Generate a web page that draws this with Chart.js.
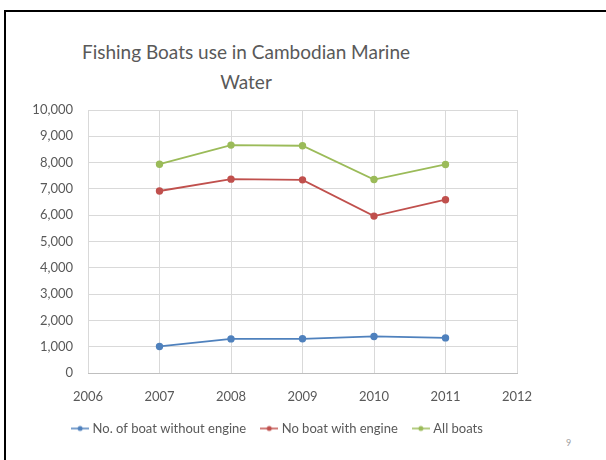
<!DOCTYPE html>
<html lang="en">
<head>
    <meta charset="UTF-8">
    <title>Fishing Boats use in Cambodian Marine Water</title>
    <script src="https://cdn.jsdelivr.net/npm/chart.js"></script>
    <style>
        body {
            margin: 0;
            width: 606px;
            height: 460px;
            overflow: hidden;
            background: #ffffff;
            font-family: Lato, sans-serif;
            position: relative;
        }
        .frame {
            position: absolute;
            left: 4px;
            top: 10px;
            width: 700px;
            height: 600px;
            border-left: 2px solid #000;
            border-top: 2px solid #000;
        }
        .title {
            position: absolute;
            left: 46px;
            width: 400px;
            top: 37px;
            text-align: center;
            font-size: 19px;
            line-height: 30px;
            color: #595959;
        }
        .page {
            position: absolute;
            left: 566px;
            top: 437px;
            font-size: 9px;
            color: #a0a0a0;
        }
        .wrap {
            position: absolute;
            left: 0;
            top: 0;
            width: 554px;
            height: 460px;
        }
    </style>
</head>
<body>
    <div class="frame"></div>
    <div class="title">Fishing Boats use in Cambodian Marine<br>Water</div>
    <div class="page">9</div>
    <div class="wrap"><canvas id="boats"></canvas></div>
    <script>
        // years on the x axis
        const years = [2007, 2008, 2009, 2010, 2011];
        const seriesNames = ['No. of boat without engine', 'No boat with engine', 'All boats'];
        const withoutEngine = [1010, 1296, 1300, 1390, 1335];
        const withEngine = [6920, 7370, 7345, 5965, 6590];
        const allBoats = [7940, 8665, 8640, 7355, 7930];
        const colors = ['#4f81bd', '#c0504d', '#9bbb59'];

        // small line + dot marker for the legend
        function legendMarker(color) {
            const c = document.createElement('canvas');
            c.width = 18;
            c.height = 8;
            const g = c.getContext('2d');
            g.strokeStyle = color;
            g.lineWidth = 1.5;
            g.beginPath();
            g.moveTo(0, 4);
            g.lineTo(18, 4);
            g.stroke();
            g.fillStyle = color;
            g.beginPath();
            g.arc(9, 4, 2.5, 0, Math.PI * 2);
            g.fill();
            return c;
        }

        // legend in the original sits a little right of the plot centre
        const nudgeLegend = {
            id: 'nudgeLegend',
            afterLayout(chart) {
                chart.legend.left += 11;
                chart.legend.right += 11;
            }
        };

        const values = [withoutEngine, withEngine, allBoats];
        const datasets = values.map((vals, i) => ({
            label: seriesNames[i],
            data: years.map((y, j) => ({ x: y, y: vals[j] })),
            borderColor: colors[i],
            backgroundColor: colors[i],
            borderWidth: 1.8,
            pointRadius: 2.8,
            pointStyle: 'circle',
            tension: 0
        }));

        Chart.defaults.font.family = 'Lato, sans-serif';
        Chart.defaults.color = '#595959';

        new Chart(document.getElementById('boats'), {
            type: 'line',
            data: { datasets },
            plugins: [nudgeLegend],
            options: {
                responsive: true,
                maintainAspectRatio: false,
                animation: false,
                layout: { padding: { top: 110, right: 37, left: 18, bottom: 15 } },
                scales: {
                    x: {
                        type: 'linear',
                        min: 2006,
                        max: 2012,
                        grid: { color: '#d9d9d9', drawTicks: false },
                        border: { color: '#bfbfbf' },
                        afterFit: s => { s.height = 32; },
                        ticks: {
                            stepSize: 1,
                            padding: 16,
                            font: { size: 13 },
                            callback: v => String(v)
                        }
                    },
                    y: {
                        min: 0,
                        max: 10000,
                        grid: { color: '#d9d9d9', drawTicks: false },
                        border: { display: false },
                        afterFit: s => { s.width = 70; },
                        ticks: {
                            stepSize: 1000,
                            padding: 15,
                            font: { size: 13 },
                            callback: v => v.toLocaleString('en-US')
                        }
                    }
                },
                plugins: {
                    tooltip: { enabled: false },
                    legend: {
                        position: 'bottom',
                        labels: {
                            usePointStyle: true,
                            pointStyleWidth: 12,
                            padding: 17,
                            color: '#595959',
                            font: { size: 13 },
                            generateLabels: chart => chart.data.datasets.map((ds, i) => ({
                                text: ds.label,
                                pointStyle: legendMarker(colors[i]),
                                fillStyle: colors[i],
                                strokeStyle: colors[i],
                                fontColor: '#595959',
                                lineWidth: 0,
                                datasetIndex: i
                            }))
                        }
                    }
                }
            }
        });
    </script>
</body>
</html>
